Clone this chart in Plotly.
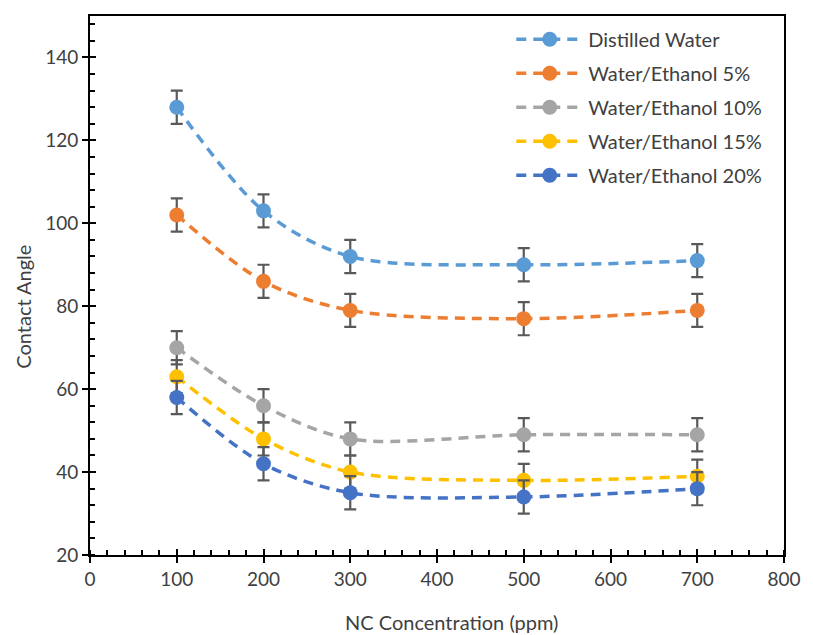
import plotly.graph_objects as go

x_ppm = [100, 200, 300, 500, 700]
series_names = ["Distilled Water", "Water/Ethanol 5%", "Water/Ethanol 10%",
                "Water/Ethanol 15%", "Water/Ethanol 20%"]
distilled = [128, 103, 92, 90, 91]
eth5 = [102, 86, 79, 77, 79]
eth10 = [70, 56, 48, 49, 49]
eth15 = [63, 48, 40, 38, 39]
eth20 = [58, 42, 35, 34, 36]
err = [4, 4, 4, 4, 4]
colors = ["#5B9BD5", "#ED7D31", "#A5A5A5", "#FFC000", "#4472C4"]

FONT = "Lato"
TXT = "#404040"
fig = go.Figure()
for i, (name, ys, c) in enumerate(zip(series_names, [distilled, eth5, eth10, eth15, eth20], colors)):
    fig.add_trace(go.Scatter(
        x=x_ppm, y=ys, name=name, mode="lines+markers",
        legendgroup=f"g{i}",
        line=dict(color=c, width=3.5, dash="10px,7px", shape="spline", smoothing=0.9),
        marker=dict(color=c, size=15),
        error_y=dict(type="data", array=err, visible=True, color="#595959",
                     thickness=2.2, width=6),
    ))

axis_common = dict(showline=True, linecolor="black", linewidth=2, mirror=True,
                   showgrid=False, zeroline=False, ticks="outside", ticklen=6,
                   tickwidth=2, tickcolor="black",
                   tickfont=dict(family=FONT, size=19, color=TXT))
fig.update_layout(
    width=813, height=635,
    margin=dict(l=90, r=20, t=16, b=80),
    paper_bgcolor="white", plot_bgcolor="white",
    font=dict(family=FONT, color=TXT),
    xaxis=dict(range=[0, 800], dtick=100, tick0=0,
               minor=dict(ticks="inside", ticklen=5, dtick=20, tickcolor="black", tickwidth=1.5),
               **axis_common),
    yaxis=dict(range=[20, 150], dtick=20, tick0=0,
               minor=dict(ticks="inside", ticklen=5, dtick=4, tickcolor="black", tickwidth=1.5),
               **axis_common),
    xaxis2=dict(overlaying="x", range=[0, 800], dtick=100, tick0=0, ticks="inside", ticklen=6,
                tickwidth=2, tickcolor="black", showticklabels=False, showgrid=False,
                zeroline=False, side="bottom", anchor="y"),
    yaxis2=dict(overlaying="y", range=[20, 150], dtick=20, tick0=0, ticks="inside", ticklen=6,
                tickwidth=2, tickcolor="black", showticklabels=False, showgrid=False,
                zeroline=False, side="left", anchor="x"),
    legend=dict(x=0.607, y=0.993, xanchor="left", yanchor="top",
                font=dict(family=FONT, size=20, color=TXT),
                itemwidth=67,
                tracegroupgap=5, bgcolor="rgba(0,0,0,0)"),
    showlegend=True,
    annotations=[
        dict(text="NC Concentration (ppm)", xref="paper", yref="paper",
             x=0.521, y=-0.124, xanchor="center", yanchor="middle", showarrow=False,
             font=dict(family=FONT, size=20, color=TXT)),
        dict(text="Contact Angle", xref="paper", yref="paper",
             x=-0.097, y=0.46, xanchor="center", yanchor="middle", showarrow=False,
             textangle=-90, font=dict(family=FONT, size=20, color=TXT)),
    ],
)
fig.add_trace(go.Scatter(x=[None], y=[None], xaxis="x2", yaxis="y2", showlegend=False, hoverinfo="skip"))
fig.write_html("out.html")
